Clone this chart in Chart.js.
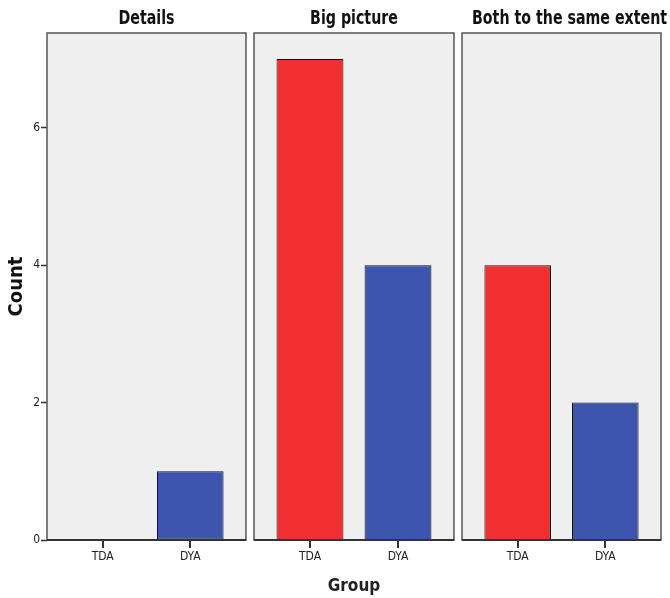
<!DOCTYPE html>
<html>
<head>
<meta charset="utf-8">
<script src="https://cdn.jsdelivr.net/npm/chart.js@4/dist/chart.umd.min.js"></script>
<style>
  body { margin: 0; background: #fff; }
  #wrap { position: relative; width: 670px; height: 598px; overflow: hidden; }
  #wrap canvas { position: absolute; left: 0; top: 0; }
</style>
</head>
<body>
<div id="wrap">
  <canvas id="c1" width="670" height="598"></canvas>
  <canvas id="c2" width="670" height="598"></canvas>
  <canvas id="c3" width="670" height="598"></canvas>
</div>
<script>
const groups = ['TDA', 'DYA']
const panels = ['Details', 'Big picture', 'Both to the same extent']
const counts = [
  [0, 1],
  [7, 4],
  [4, 2],
]
const yTicks = [0, 2, 4, 6]

const FONT = '"DejaVu Sans Condensed", "Liberation Sans Narrow", "Noto Sans", sans-serif'
const barColors = ['#f23031', '#3d55ae']

// panel edges in px (left, right)
const edges = [[47, 246], [254, 454], [462, 661]]

const panelBox = {
  id: 'panelBox',
  beforeDatasetsDraw(chart) {
    const { ctx, chartArea: a } = chart
    ctx.save()
    ctx.fillStyle = '#efefef'
    ctx.fillRect(a.left, a.top, a.right - a.left, a.bottom - a.top)
    ctx.restore()
  },
  afterDraw(chart) {
    const { ctx, chartArea: a } = chart
    const xs = chart.scales.x
    ctx.save()
    ctx.strokeStyle = '#555'
    ctx.lineWidth = 1.5
    ctx.strokeRect(a.left, a.top, a.right - a.left, a.bottom - a.top)
    ctx.strokeStyle = '#333'
    ctx.lineWidth = 2
    ctx.beginPath()
    ctx.moveTo(a.left, a.bottom)
    ctx.lineTo(a.right, a.bottom)
    ctx.stroke()
    // x tick marks under each group
    ctx.lineWidth = 2
    ctx.beginPath()
    groups.forEach((g, i) => {
      const px = Math.round(xs.getPixelForValue(i))
      ctx.moveTo(px, a.bottom)
      ctx.lineTo(px, a.bottom + 8)
    })
    ctx.stroke()
    ctx.restore()
  }
}

// narrow bold panel heading, like the SPSS facet labels
const panelTitle = {
  id: 'panelTitle',
  afterDraw(chart, args, opts) {
    const { ctx, chartArea: a } = chart
    ctx.save()
    ctx.font = 'bold 20px ' + FONT
    ctx.fillStyle = '#111'
    ctx.textBaseline = 'alphabetic'
    ctx.textAlign = 'left'
    const w = ctx.measureText(opts.text).width * 0.79
    const x = Math.max((a.left + a.right) / 2 - w / 2, a.left + 10)
    ctx.fillText(opts.text, x, 24, w)
    ctx.restore()
  }
}

function makePanel(id, idx) {
  const [l, r] = edges[idx]
  const first = idx === 0
  new Chart(document.getElementById(id), {
    type: 'bar',
    data: {
      datasets: [{
        data: counts[idx].map((v, i) => ({ x: i, y: v })),
        backgroundColor: barColors,
        borderColor: '#111',
        borderWidth: 1,
        borderSkipped: false,
        barPercentage: 0.76,
        categoryPercentage: 1,
      }]
    },
    options: {
      responsive: false,
      animation: false,
      layout: { padding: { left: first ? 0 : l, right: 670 - r, top: 33, bottom: 0 } },
      plugins: {
        legend: { display: false },
        tooltip: { enabled: false },
        title: { display: false },
        panelTitle: { text: panels[idx] },
      },
      scales: {
        x: {
          type: 'linear',
          offset: false,
          min: -0.636,
          max: 1.636,
          afterBuildTicks: s => { s.ticks = groups.map((g, i) => ({ value: i })) },
          afterFit: s => { s.height = 58 },
          ticks: {
            callback: v => groups[v],
            color: '#222',
            font: { family: FONT, size: 12 },
            padding: 3,
            maxRotation: 0,
          },
          grid: { offset: false, drawOnChartArea: false, tickLength: 7, tickColor: 'rgba(0,0,0,0)' },
          border: { display: false },
          title: {
            display: idx === 1,
            text: 'Group',
            color: '#222',
            font: { family: FONT, size: 17, weight: 'bold' },
            padding: { top: 4, bottom: 1 },
          },
        },
        y: {
          display: first,
          min: 0,
          max: 7.38,
          afterBuildTicks: s => { s.ticks = yTicks.map(v => ({ value: v })) },
          afterFit: s => { s.width = first ? 47 : 0 },
          ticks: {
            color: '#222',
            font: { family: FONT, size: 12 },
            padding: 1,
          },
          grid: { drawOnChartArea: false, tickLength: 6, tickColor: '#333', tickWidth: 1.5 },
          border: { display: false },
          title: {
            display: true,
            text: 'Count',
            color: '#111',
            font: { family: FONT, size: 20, weight: 'bold' },
            padding: { top: 5, bottom: 0 },
          },
        },
      },
    },
    plugins: [panelBox, panelTitle],
  })
}

makePanel('c1', 0)
makePanel('c2', 1)
makePanel('c3', 2)
</script>
</body>
</html>
